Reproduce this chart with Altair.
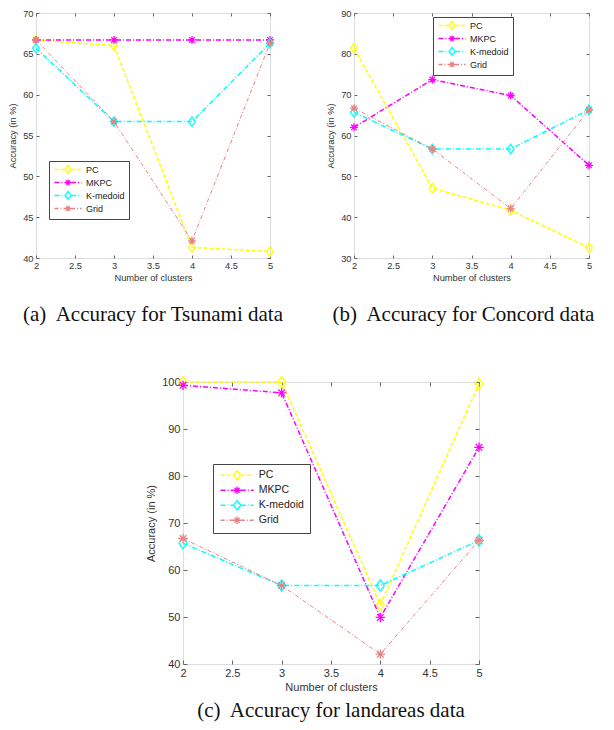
import altair as alt
import pandas as pd

# ---------------- data ----------------
clusters = [2, 3, 4, 5]
series_names = ["PC", "MKPC", "K-medoid", "Grid"]

tsunami_pc = [66.7, 66.0, 41.3, 40.8]
tsunami_mkpc = [66.7, 66.7, 66.7, 66.7]
tsunami_kmedoid = [65.7, 56.7, 56.7, 66.3]
tsunami_grid = [66.7, 56.7, 42.1, 66.3]

concord_pc = [81.4, 47.1, 41.7, 32.5]
concord_mkpc = [62.0, 73.7, 69.8, 52.7]
concord_kmedoid = [65.7, 56.7, 56.7, 66.3]
concord_grid = [66.7, 56.7, 42.1, 66.3]

landareas_pc = [100.0, 100.0, 52.6, 99.6]
landareas_mkpc = [99.3, 97.7, 49.9, 86.1]
landareas_kmedoid = [65.7, 56.7, 56.7, 66.3]
landareas_grid = [66.7, 56.7, 42.1, 66.3]

caption_a = "(a)\u00a0 Accuracy for Tsunami data"
caption_b = "(b)\u00a0 Accuracy for Concord data"
caption_c = "(c)\u00a0 Accuracy for landareas data"

x_ticks = [2, 2.5, 3, 3.5, 4, 4.5, 5]
tsunami_y_ticks = [40, 45, 50, 55, 60, 65, 70]
concord_y_ticks = [30, 40, 50, 60, 70, 80, 90]
landareas_y_ticks = [40, 50, 60, 70, 80, 90, 100]

x_title = "Number of clusters"
y_title = "Accuracy (in %)"

# ---------------- styles ----------------
colors = ["#ffff00", "#ff00ff", "#00ffff", "#e68484"]
dashes = [[4, 2], [5, 2, 1, 2], [5, 2, 1, 2], [4, 2, 1, 2]]
widths = [1.5, 1.5, 1.5, 1.0]
markers = ["diamond", "aster", "diamond", "aster"]
FRAME = "#666666"
TEXT = "#333333"

DIAMOND = "M0,-1.2L0.85,0L0,1.2L-0.85,0Z"
ASTER = "M-1,0L1,0M0,-1L0,1M-0.7,-0.7L0.7,0.7M-0.7,0.7L0.7,-0.7"


def legend_path(dash, marker, k):
    """Legend symbol: dashed line segment with the marker in the middle (units of k px)."""
    x0, x1, cx = -1.0, 8.0, 3.5
    pat = [d / k for d in dash]
    parts = []
    for a, b in [(x0, cx - 1.0), (cx + 1.0, x1)]:
        x, i = a, 0
        while x < b - 1e-6:
            L = pat[i % len(pat)]
            if i % 2 == 0:
                parts.append(f"M{x:.2f},0L{min(x + L, b):.2f},0")
            x += L
            i += 1
    if marker == "diamond":
        parts.append(f"M{cx},-1.3L{cx + 1},0L{cx},1.3L{cx - 1},0Z")
    else:
        parts.append(
            f"M{cx - 1},0L{cx + 1},0M{cx},-1L{cx},1M{cx - 0.7},-0.7L{cx + 0.7},0.7M{cx - 0.7},0.7L{cx + 0.7},-0.7"
        )
    return "".join(parts)


def panel(values, y_ticks, W, H, caption, fs, legend_xy, leg_k, leg_fs, leg_pad, leg_row,
          mk_size=64, tick=3, cap_dx=0, cap_off=13):
    rows = []
    for name, vals in zip(series_names, values):
        for c, v in zip(clusters, vals):
            rows.append({"k": c, "acc": v, "series": name})
    df = pd.DataFrame(rows)
    base = alt.Chart(df)

    ydom = [y_ticks[0], y_ticks[-1]]
    xs = alt.Scale(domain=[2, 5], nice=False, zero=False)
    ys = alt.Scale(domain=ydom, nice=False, zero=False)
    x_enc = alt.X(
        "k:Q", scale=xs,
        axis=alt.Axis(values=x_ticks, format="~g", ticks=False, domain=False, grid=False,
                      labelPadding=3, labelFontSize=fs, labelFont="Liberation Sans", labelColor=TEXT,
                      title=x_title, titleFontSize=fs, titleFont="Liberation Sans", titleColor=TEXT,
                      titleFontWeight="normal", titlePadding=3, labelFlush=False),
    )
    y_enc = alt.Y(
        "acc:Q", scale=ys,
        axis=alt.Axis(values=y_ticks, ticks=False, domain=False, grid=False,
                      labelPadding=3, labelFontSize=fs, labelFont="Liberation Sans", labelColor=TEXT,
                      title=y_title, titleFontSize=fs, titleFont="Liberation Sans", titleColor=TEXT,
                      titleFontWeight="normal", titlePadding=5),
    )

    layers = []
    for i, name in enumerate(series_names):
        sub = base.transform_filter(alt.datum.series == name)
        layers.append(
            sub.mark_line(strokeDash=dashes[i], strokeWidth=widths[i], color=colors[i]).encode(
                x=x_enc, y=y_enc, order="k:Q")
        )
        shp = DIAMOND if markers[i] == "diamond" else ASTER
        layers.append(
            sub.mark_point(shape=shp, filled=False, size=mk_size, strokeWidth=1.3, opacity=1,
                           color=colors[i]).encode(x=x_enc, y=y_enc)
        )

    leg = alt.Legend(
        title=None, orient="none", legendX=legend_xy[0], legendY=legend_xy[1],
        strokeColor="#444444", fillColor="white", padding=leg_pad,
        labelFont="Liberation Sans", labelFontSize=leg_fs, labelColor="#222222",
        symbolSize=(2 * leg_k) ** 2, symbolStrokeWidth=1.3, symbolOpacity=1,
        labelOffset=leg_k * 8, rowPadding=leg_row, symbolOffset=0,
    )
    leg_paths = [legend_path(dashes[i], markers[i], leg_k) for i in range(4)]
    # invisible carrier of the legend; kept at the left edge so it adds no width
    layers.append(
        base.transform_filter(alt.datum.k == clusters[0]).mark_point(
            opacity=0, filled=False, size=4, clip=True).encode(
            x=x_enc, y=y_enc,
            stroke=alt.Stroke("series:N", scale=alt.Scale(domain=series_names, range=colors), legend=leg),
            shape=alt.Shape("series:N", scale=alt.Scale(domain=series_names, range=leg_paths), legend=leg),
        )
    )
    inner = alt.layer(*layers)

    def tick_axis(orient, vals, off):
        return alt.Axis(orient=orient, offset=off, values=vals, labels=False, domain=False, grid=False,
                        ticks=True, tickSize=tick, tickColor=FRAME, tickWidth=1, title=None)

    t1 = base.mark_point(opacity=0, size=1).encode(
        x=alt.X("k:Q", scale=xs, axis=tick_axis("top", x_ticks, -H)),
        y=alt.Y("acc:Q", scale=ys, axis=tick_axis("right", y_ticks, -W)),
    )
    t2 = base.mark_point(opacity=0, size=1).encode(
        x=alt.X("k:Q", scale=xs, axis=tick_axis("bottom", x_ticks, -H)),
        y=alt.Y("acc:Q", scale=ys, axis=tick_axis("left", y_ticks, -W)),
    )
    return alt.layer(inner, t1, t2).resolve_axis(x="independent", y="independent").properties(
        width=W, height=H,
        title=alt.TitleParams(caption, orient="bottom", anchor="middle", frame="group",
                              font="Liberation Serif", fontSize=21, fontWeight="normal",
                              color="#111111", offset=cap_off, dx=cap_dx),
    )


chart_a = panel([tsunami_pc, tsunami_mkpc, tsunami_kmedoid, tsunami_grid], tsunami_y_ticks,
                234, 245, caption_a, 9.3, (13, 148), 3.0, 9, 4, 0, cap_off=21)
chart_b = panel([concord_pc, concord_mkpc, concord_kmedoid, concord_grid], concord_y_ticks,
                235, 245, caption_b, 9.3, (79, 4), 3.0, 9, 4, 0, cap_dx=-8, cap_off=21)
chart_c = panel([landareas_pc, landareas_mkpc, landareas_kmedoid, landareas_grid], landareas_y_ticks,
                296, 282, caption_c, 11, (30, 82), 3.67, 10.5, 6, 0, mk_size=90, tick=4, cap_off=8)

spacer = alt.Chart(pd.DataFrame({"v": [0]})).mark_text(text="").properties(
    width=108, height=10, view=alt.ViewBackground(stroke="transparent"))

indep = dict(stroke="independent", shape="independent")
chart = alt.vconcat(
    alt.hconcat(chart_a, chart_b, spacing=41).resolve_scale(**indep).resolve_legend(**indep),
    alt.hconcat(spacer, chart_c, spacing=0).resolve_scale(**indep).resolve_legend(**indep),
    spacing=47,
).resolve_scale(**indep).resolve_legend(**indep).properties(
    padding={"left": 0, "top": 0, "right": 0, "bottom": 0}
).configure_view(stroke=FRAME, strokeWidth=1).configure(background="white")

chart.save("out.html", embed_options={"renderer": "svg", "actions": False})
